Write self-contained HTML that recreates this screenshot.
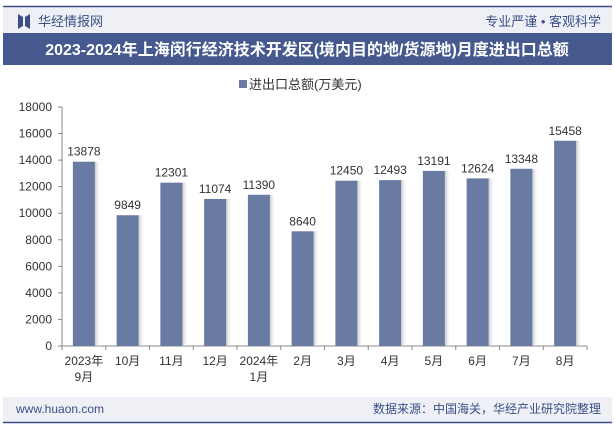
<!DOCTYPE html>
<html><head><meta charset="utf-8"><style>
body{margin:0;width:615px;height:427px;overflow:hidden;background:#fff;font-family:"Liberation Sans","Noto Sans CJK SC",sans-serif;}
</style></head><body>
<svg width="615" height="427" xmlns="http://www.w3.org/2000/svg" font-family="Liberation Sans, Noto Sans CJK SC, sans-serif">
<defs><linearGradient id="sh" x1="0" x2="1"><stop offset="0" stop-color="#bbb" stop-opacity="0.8"/><stop offset="1" stop-color="#fff" stop-opacity="0"/></linearGradient></defs>
<rect x="3" y="7" width="609" height="26" fill="#eef0f6"/>
<line x1="3" y1="6.5" x2="612" y2="6.5" stroke="#3b4f86" stroke-width="1.5"/>
<g><path d="M18 14 L23 17 L23 26 L18 29 Z M30 14 L25 17 L25 26 L30 29 Z" fill="#3b4f86"/>
<text x="38" y="26" font-size="13" fill="#3b4f86">华经情报网</text></g>
<text x="601" y="26" font-size="13" fill="#3b4f86" text-anchor="end">专业严谨 • 客观科学</text>
<rect x="3" y="33" width="609" height="32" fill="#45598f"/>
<text x="307" y="55" font-size="16" font-weight="bold" fill="#fff" text-anchor="middle">2023-2024年上海闵行经济技术开发区(境内目的地/货源地)月度进出口总额</text>
<g><rect x="239" y="80" width="8" height="8" fill="#6a7ba3"/><text x="249" y="89" font-size="13" fill="#333">进出口总额(万美元)</text></g>
<g id="chart"></g>
<rect x="3" y="397" width="609" height="25" fill="#eef0f6"/>
<line x1="3" y1="422.5" x2="612" y2="422.5" stroke="#3b4f86" stroke-width="1.5"/>
<text x="16" y="413" font-size="12" fill="#3b4f86">www.huaon.com</text>
<text x="601" y="413" font-size="12" fill="#3b4f86" text-anchor="end">数据来源：中国海关，华经产业研究院整理</text>
</svg>
<script>
const categories=[["2023年","9月"],["10月"],["11月"],["12月"],["2024年","1月"],["2月"],["3月"],["4月"],["5月"],["6月"],["7月"],["8月"]];
const values=[13878,9849,12301,11074,11390,8640,12450,12493,13191,12624,13348,15458];
const yTicks=[0,2000,4000,6000,8000,10000,12000,14000,16000,18000];
const NS="http://www.w3.org/2000/svg";
const g=document.getElementById('chart');
const x0=62,x1=587,yb=346,yt=107,ymax=18000;
const slot=(x1-x0)/categories.length;
const ys=v=>yb-(v/ymax)*(yb-yt);
function mk(t,a,txt){const e=document.createElementNS(NS,t);for(const k in a)e.setAttribute(k,a[k]);if(txt!==undefined)e.textContent=txt;g.appendChild(e);return e;}
yTicks.forEach(t=>{
const l=mk('text',{x:52,y:ys(t)+4,'font-size':12,fill:'#333','text-anchor':'end'},t);


mk('line',{x1:58,x2:62,y1:ys(t),y2:ys(t),stroke:'#888'});
});
const ax=mk('line',{x1:62,x2:62,y1:yt,y2:yb,stroke:'#888'});


const bx=mk('line',{x1:x0,x2:x1,y1:yb,y2:yb,stroke:'#888'});


for(let i=0;i<=categories.length;i++)mk('line',{x1:x0+i*slot,x2:x0+i*slot,y1:yb,y2:yb+4,stroke:'#888'});
values.forEach((v,i)=>{
const cx=x0+slot*(i+0.5),w=22;
mk('rect',{x:cx+w/2,y:ys(v),width:6,height:yb-ys(v),fill:'url(#sh)'});
const r=mk('rect',{x:cx-w/2,y:ys(v),width:w,height:yb-ys(v),fill:'#6a7ba3'});


const t=mk('text',{x:cx,y:ys(v)-6,'font-size':12,fill:'#333','text-anchor':'middle'},v);


categories[i].forEach((s,j)=>{
const c=mk('text',{x:cx,y:yb+19+j*16,'font-size':12,fill:'#333','text-anchor':'middle'},s);


});
});
</script>
</body></html>
